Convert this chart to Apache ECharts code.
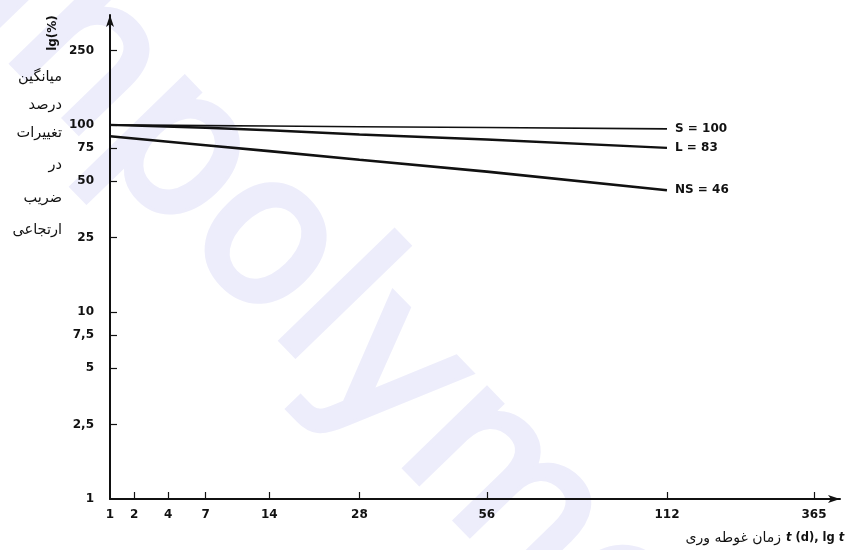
<!DOCTYPE html>
<html>
<head>
<meta charset="utf-8">
<script src="https://cdn.jsdelivr.net/npm/echarts@6/dist/echarts.min.js"></script>
<style>html,body{margin:0;padding:0;background:#fff}#c{width:848px;height:550px}</style>
</head>
<body>
<div id="c"></div>
<script>
// ---- data ----
var days = [1, 7, 14, 28, 56, 112];
var seriesS = [100, 99.2, 98.6, 97.8, 96.8, 95.3];
var seriesL = [100, 96.6, 93.7, 88.9, 83.5, 75.4];
var seriesNS = [86.9, 77.9, 72.4, 65.1, 56.3, 44.7];
var xTickLabels = [1, 2, 4, 7, 14, 28, 56, 112, 365];
var yTickLabels = [1, 2.5, 5, 7.5, 10, 25, 50, 75, 100, 250];
var endLabels = ['S = 100', 'L = 83', 'NS = 46'];
var leftTitleLines = ['میانگین', 'درصد', 'تغییرات', 'در', 'ضریب', 'ارتجاعی'];

// x scale of the original: square-root of time, with a break after 112 d
function xPos(t) {
  return t <= 112 ? Math.sqrt(t) : Math.sqrt(112) + (t - 112) / 100;
}
function toPts(vals) {
  return days.map(function (t, i) { return [xPos(t), vals[i]]; });
}

var chart = echarts.init(document.getElementById('c'));
var F = 'DejaVu Sans';
var lineColor = '#111';

function mkSeries(name, vals, width, label) {
  return {
    name: name, type: 'line', data: toPts(vals), showSymbol: false, silent: true,
    lineStyle: { color: lineColor, width: width },
    endLabel: { show: true, formatter: label, color: '#111', fontFamily: F, fontWeight: 'bold', fontSize: 12, distance: 8 },
    z: 3
  };
}

var graphics = [
  { type: 'text', x: 357, y: 341, rotation: -0.80, z: -10, silent: true,
    style: { text: 'Inpolymer', fill: '#ededfb', stroke: '#ededfb', lineWidth: 7,
      font: 'normal 205px "DejaVu Sans"', textAlign: 'center', textVerticalAlign: 'middle' } },
  { type: 'text', x: 53, y: 33, rotation: Math.PI / 2,
    style: { text: 'lg(%)', fill: '#111', font: 'bold 12px "DejaVu Sans"', textAlign: 'center', textVerticalAlign: 'middle' } },
  { type: 'text', x: 781, y: 538,
    style: { text: 'زمان غوطه وری', fill: '#111', font: '14px "DejaVu Sans"', textAlign: 'right', textVerticalAlign: 'middle' } },
  { type: 'text', x: 786, y: 538,
    style: { text: '{i|t} (d), lg {i|t}', fill: '#111', font: 'bold 11.5px "DejaVu Sans"', textAlign: 'left', textVerticalAlign: 'middle',
      rich: { i: { fontStyle: 'italic', fontWeight: 'bold', fontFamily: F, fontSize: 11.5, fill: '#111' } } } }
];
var ys = [77, 105, 133, 165, 198, 230];
leftTitleLines.forEach(function (s, i) {
  graphics.push({ type: 'text', x: 62, y: ys[i],
    style: { text: s, fill: '#111', font: '14.5px "DejaVu Sans"', textAlign: 'right', textVerticalAlign: 'middle' } });
});

chart.setOption({
  animation: false,
  backgroundColor: '#fff',
  grid: { left: 110, right: 8, top: 15, bottom: 51, containLabel: false },
  xAxis: {
    type: 'value', min: 1, max: 13.56,
    splitLine: { show: false },
    axisLine: { show: true, symbol: ['none', 'arrow'], symbolSize: [6, 12], lineStyle: { color: '#111', width: 2 } },
    axisTick: { show: true, inside: true, length: 7, lineStyle: { color: '#111', width: 1.2 },
      customValues: xTickLabels.slice(1).map(xPos) },
    axisLabel: { show: true, customValues: xTickLabels.map(xPos), margin: 10,
      color: '#111', fontFamily: F, fontWeight: 'bold', fontSize: 12,
      formatter: function (v) {
        var best = xTickLabels[0], d = 1e9;
        xTickLabels.forEach(function (t) { var dd = Math.abs(xPos(t) - v); if (dd < d) { d = dd; best = t; } });
        return String(best);
      } }
  },
  yAxis: {
    type: 'log', logBase: 10, min: 1, max: 387,
    splitLine: { show: false },
    axisLine: { show: true, symbol: ['none', 'arrow'], symbolSize: [6, 12], lineStyle: { color: '#111', width: 2 } },
    axisTick: { show: true, inside: true, length: 7, lineStyle: { color: '#111', width: 1.2 },
      customValues: yTickLabels.slice(1) },
    axisLabel: { show: true, customValues: yTickLabels, margin: 16,
      color: '#111', fontFamily: F, fontWeight: 'bold', fontSize: 12,
      formatter: function (v) { return String(+v.toPrecision(6)).replace('.', ','); } }
  },
  graphic: graphics,
  series: [
    mkSeries('S', seriesS, 1.6, endLabels[0]),
    mkSeries('L', seriesL, 2.4, endLabels[1]),
    mkSeries('NS', seriesNS, 2.6, endLabels[2])
  ]
});
</script>
</body>
</html>
